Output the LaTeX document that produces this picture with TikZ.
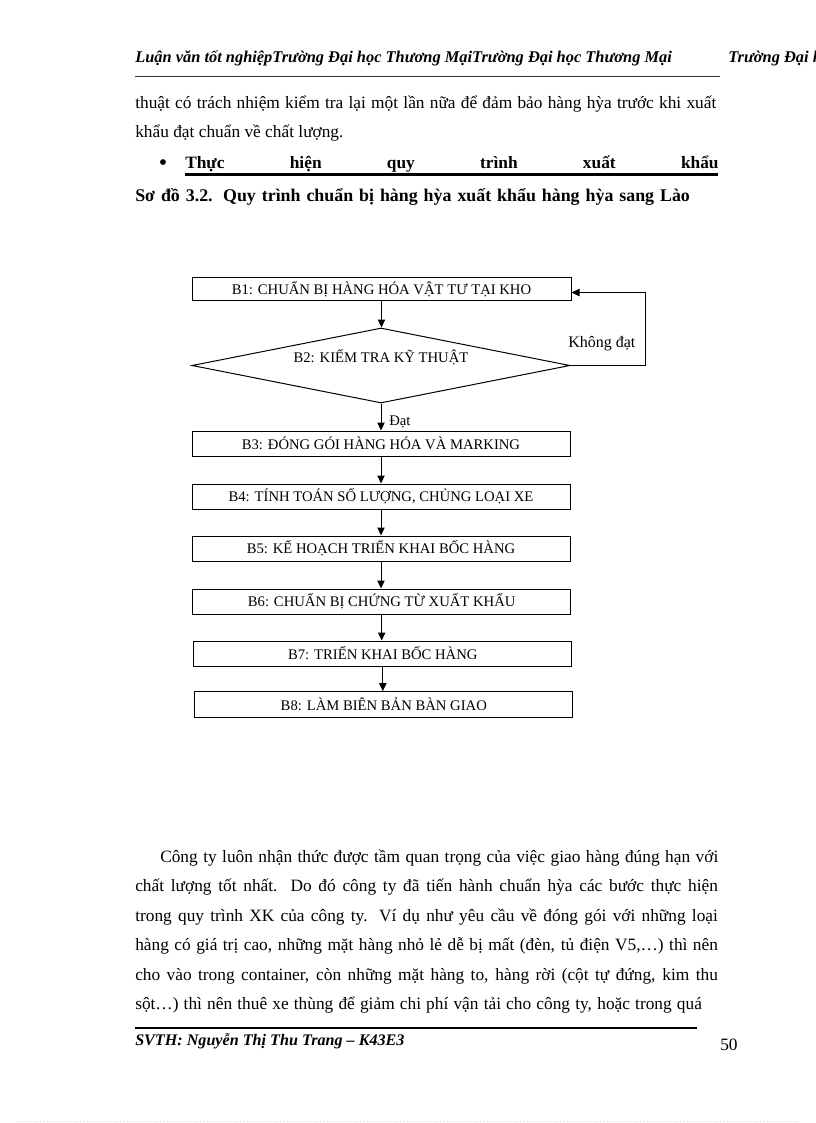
\documentclass[tikz,border=0pt]{standalone}
\usepackage{fontspec}
\setmainfont{Liberation Serif}
\usetikzlibrary{shapes.geometric,arrows.meta}
\begin{document}
\begin{tikzpicture}[x=0.75pt,y=-0.75pt,
  body/.style={anchor=base west, inner sep=0, font=\fontsize{13}{15}\selectfont},
  hdr/.style={anchor=base west, inner sep=0, font=\fontsize{12.3}{14}\selectfont\bfseries\itshape},
  boldtxt/.style={anchor=base west, inner sep=0, font=\fontsize{13}{15}\selectfont\bfseries},
  stepbox/.style={draw, line width=0.75pt, inner sep=0, minimum width=378*0.75pt, minimum height=25*0.75pt, font=\fontsize{11}{13}\selectfont},
  decision/.style={draw, diamond, line width=0.75pt, inner sep=0, minimum width=378*0.75pt, minimum height=75*0.75pt},
  lbl/.style={inner sep=0, font=\fontsize{11}{13}\selectfont},
  arr/.style={-{Triangle[length=6pt,width=5.5pt]}, line width=0.75pt}
]
\useasboundingbox (0,0) rectangle (816,1123);
\fill[white] (0,0) rectangle (816,1123);
\begin{scope}
\clip (0,0) rectangle (816,1123);
% header
\node[hdr] (h1) at (135,63) {Luận văn tốt nghiệpTrường Đại học Thương MạiTrường Đại học Thương Mại};
\node[hdr] (h2) at (728,63) {Trường Đại học Thương Mại};
\end{scope}
\draw[line width=0.6pt, black!80] (135,76) -- (720,76);

% top text
\node[body] (t1) at (135,109) {\makebox[435.75pt][s]{thuật có trách nhiệm kiểm tra lại một lần nữa để đảm bảo hàng hỳa trước khi xuất}};
\node[body] (t2) at (135,138) {khẩu đạt chuẩn về chất lượng.};
\node[anchor=center, inner sep=0, font=\fontsize{18}{18}\selectfont] (bul) at (163,165) {•};
\node[boldtxt] (t3) at (185,169) {\makebox[400pt][s]{Thực hiện quy trình xuất khẩu}};
\draw[line width=1.6pt] (185,174.5) -- (718,174.5);
\node[boldtxt, font=\fontsize{13.4}{15}\selectfont\bfseries] (cap) at (135,202) {\makebox[416pt][s]{Sơ đồ 3.2. Quy trình chuẩn bị hàng hỳa xuất khẩu hàng hỳa sang Lào}};

% flowchart
\node[stepbox, minimum width=379*0.75pt, minimum height=23.5*0.75pt] (b1) at (381.5,289) {B1: CHUẨN BỊ HÀNG HÓA VẬT TƯ TẠI KHO};
\node[decision] (b2) at (381,365.5) {};
\node[lbl] (b2t) at (381,357) {B2: KIỂM TRA KỸ THUẬT};
\node[stepbox] (b3) at (381,443.5) {B3: ĐÓNG GÓI HÀNG HÓA VÀ MARKING};
\node[stepbox] (b4) at (381,496.5) {B4: TÍNH TOÁN SỐ LƯỢNG, CHỦNG LOẠI XE};
\node[stepbox] (b5) at (381,548.5) {B5: KẾ HOẠCH TRIỂN KHAI BỐC HÀNG};
\node[stepbox] (b6) at (381.7,601.5) {B6: CHUẨN BỊ CHỨNG TỪ XUẤT KHẨU};
\node[stepbox] (b7) at (382.8,653.5) {B7: TRIỂN KHAI BỐC HÀNG};
\node[stepbox, minimum height=26*0.75pt] (b8) at (383.8,704.7) {B8: LÀM BIÊN BẢN BÀN GIAO};

\draw[arr] (b1.south) -- (b1.south |- b2.north);
\draw[arr] (b2.south) -- (b2.south |- b3.north);
\node[lbl, anchor=base west] (dat) at (389,425) {Đạt};
\draw[arr] (b3.south) -- (b3.south |- b4.north);
\draw[arr] (b4.south) -- (b4.south |- b5.north);
\draw[arr] (b5.south) -- (b5.south |- b6.north);
\draw[arr] (b6.south) -- (b6.south |- b7.north);
\draw[arr] (b7.south) -- (b7.south |- b8.north);
\coordinate (fb) at (645,292.5);
\draw[arr] (b2.east) -| (fb) -- (b1.east |- fb);
\node[lbl, anchor=base west, font=\fontsize{12}{14}\selectfont] (kd) at (568,347) {Không đạt};

% bottom paragraph
\node[body] (p1) at (160,862) {\makebox[418.5pt][s]{Công ty luôn nhận thức được tầm quan trọng của việc giao hàng đúng hạn với}};
\node[body] (p2) at (135,891) {\makebox[437pt][s]{chất lượng tốt nhất. Do đó công ty đã tiến hành  chuẩn hỳa các bước thực hiện}};
\node[body] (p3) at (135,921) {\makebox[437pt][s]{trong quy trình XK của công ty. Ví dụ như yêu cầu về đóng gói với những loại}};
\node[body] (p4) at (135,950) {\makebox[437pt][s]{hàng có giá trị cao, những mặt hàng nhỏ lẻ dễ bị mất (đèn, tủ điện V5,…) thì nên}};
\node[body] (p5) at (135,980) {\makebox[437pt][s]{cho vào trong container, còn những mặt hàng to, hàng rời (cột tự đứng, kim thu}};
\node[body] (p6) at (135,1009) {\makebox[425pt][s]{sột…) thì nên thuê xe thùng để giảm chi phí vận tải cho công ty, hoặc trong quá}};

% footer
\draw[line width=1.5pt] (135,1028) -- (697,1028);
\node[hdr, font=\fontsize{12.1}{14}\selectfont\bfseries\itshape] (f1) at (135,1045) {SVTH: Nguyễn Thị Thu Trang – K43E3};
\node[body] (pg) at (720,1050) {50};
\draw[gray!35, dotted, line width=0.5pt] (17,1121) -- (800,1121);
\end{tikzpicture}
\end{document}
